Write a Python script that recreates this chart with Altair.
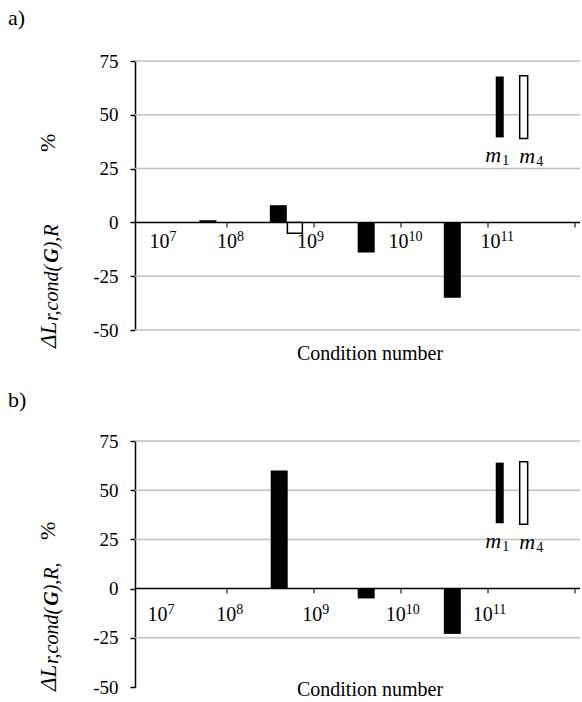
import altair as alt
import pandas as pd

SERIF = "Liberation Serif"

# ---------------- data ----------------
x_exponents = ["7", "8", "9", "10", "11"]          # tick labels 10^k
x_tick_pos = [8, 9, 10, 11, 12]                     # log10(condition number) tick marks
y_tick_vals = [-50, -25, 0, 25, 50, 75]

series_names = ["m1", "m4"]
series_sub = ["1", "4"]

# panel a)
a_bar_x = [7.78, 8.59, 9.60, 10.59, 8.78]
a_bar_v = [1, 8, -14, -35, -5]
a_bar_s = ["m1", "m1", "m1", "m1", "m4"]
a_label_x = [7.225, 8.0, 8.92, 9.97, 11.03]
a_key_lo = [39.5, 39.0]
a_key_hi = [67.8, 68.2]
a_grid = [-50, -25, 25, 50, 75]

# panel b)
b_bar_x = [8.60, 9.60, 10.59]
b_bar_v = [60, -5, -23]
b_bar_s = ["m1", "m1", "m1"]
b_label_x = [7.2, 7.99, 8.98, 9.94, 10.94]
b_key_lo = [33.2, 32.7]
b_key_hi = [64.0, 64.5]
b_grid = [-25, 25, 50, 75]

key_x = [11.135, 11.41]
key_text_x = [11.06, 11.45]

W = 445

YAXIS = alt.Axis(
    values=y_tick_vals, grid=False, domainColor="black", domainWidth=1.5,
    tickColor="black", tickWidth=1.5, tickSize=5,
    labelFont=SERIF, labelFontSize=19, labelColor="black", labelPadding=12,
    labelExpr="datum.value < 0 ? '-' + abs(datum.value) : '' + datum.value",
    title=None)


def panel(letter, height, bar_x, bar_v, bar_s, label_x, key_lo, key_hi, grid_vals,
          label_dy, title_y, letter_y, ytitle_parts):
    xs = alt.Scale(domain=[7, 12], nice=False, zero=False)
    ys = alt.Scale(domain=[-50, 75], nice=False, zero=False)
    bars = pd.DataFrame({"x": bar_x, "v": bar_v, "s": bar_s})
    key = pd.DataFrame({"s": series_names, "x": key_x, "tx": key_text_x,
                        "lo": key_lo, "hi": key_hi, "sub": series_sub})
    labels = pd.DataFrame({"x": label_x, "base": ["10"] * len(label_x), "exp": x_exponents})
    ticks = pd.DataFrame({"x": x_tick_pos})
    grid = pd.DataFrame({"y": grid_vals})
    one = pd.DataFrame({"k": [0]})

    def X(f):
        return alt.X(f + ":Q", scale=xs, axis=None)

    def Y(f):
        return alt.Y(f + ":Q", scale=ys, axis=YAXIS)

    Y0 = alt.YDatum(0, scale=ys, axis=YAXIS)

    layers = []
    layers.append(alt.Chart(grid).mark_rule(color="#c0c0c0", strokeWidth=1.5).encode(y=Y("y")))
    layers.append(alt.Chart(one).mark_rule(color="black", strokeWidth=1.5).encode(y=Y0))
    layers.append(alt.Chart(ticks).mark_tick(orient="vertical", size=5, thickness=1.5,
                                             color="black", yOffset=2.5).encode(
        x=X("x"), y=Y0))
    layers.append(alt.Chart(bars).transform_filter("datum.s == 'm1'").mark_bar(
        color="black", width=17).encode(x=X("x"), y=Y("v"), y2=alt.Y2Datum(0)))
    layers.append(alt.Chart(bars).transform_filter("datum.s == 'm4'").mark_bar(
        fill="white", stroke="black", strokeWidth=1.5, width=15).encode(
        x=X("x"), y=Y("v"), y2=alt.Y2Datum(0)))
    # key bars
    layers.append(alt.Chart(key).transform_filter("datum.s == 'm1'").mark_bar(
        color="black", width=8).encode(x=X("x"), y=Y("hi"), y2=alt.Y2("lo:Q")))
    layers.append(alt.Chart(key).transform_filter("datum.s == 'm4'").mark_bar(
        fill="white", stroke="black", strokeWidth=1.5, width=8).encode(
        x=X("x"), y=Y("hi"), y2=alt.Y2("lo:Q")))
    layers.append(alt.Chart(key).mark_text(font=SERIF, fontSize=22, fontStyle="italic",
                                           align="center", baseline="alphabetic",
                                           dy=25, color="black").encode(
        x=X("tx"), y=Y("lo"), text=alt.value("m")))
    layers.append(alt.Chart(key).mark_text(font=SERIF, fontSize=14, align="left",
                                           baseline="alphabetic",
                                           dx=9, dy=28, color="black").encode(
        x=X("tx"), y=Y("lo"), text="sub:N"))
    # x tick labels 10^k
    layers.append(alt.Chart(labels).mark_text(font=SERIF, fontSize=20, align="center",
                                              baseline="alphabetic",
                                              dy=label_dy, color="black").encode(
        x=X("x"), y=Y0, text="base:N"))
    layers.append(alt.Chart(labels).mark_text(font=SERIF, fontSize=14, align="left",
                                              baseline="alphabetic",
                                              dx=10, dy=label_dy - 7, color="black").encode(
        x=X("x"), y=Y0, text="exp:N"))
    # x title
    layers.append(alt.Chart(one).mark_text(font=SERIF, fontSize=20, align="center",
                                           baseline="alphabetic", color="black").encode(
        x=alt.value(235), y=alt.value(title_y), text=alt.value("Condition number")))
    # panel letter
    layers.append(alt.Chart(one).mark_text(font=SERIF, fontSize=22, align="left",
                                           baseline="top", color="black").encode(
        x=alt.value(-127), y=alt.value(letter_y), text=alt.value(letter)))
    # y title pieces (rotated)
    for txt, px, py, fs, style, weight in ytitle_parts:
        layers.append(alt.Chart(one).mark_text(font=SERIF, fontSize=fs, fontStyle=style,
                                               fontWeight=weight, angle=270, align="left",
                                               baseline="alphabetic",
                                               color="black").encode(
            x=alt.value(px), y=alt.value(py), text=alt.value(txt)))

    return alt.layer(*layers).properties(width=W, height=height)


top_title = [
    ("ΔL", -79, 287, 23, "italic", "normal"),
    ("r,cond(", -77, 260, 20, "italic", "normal"),
    ("G", -77, 201.7, 20, "italic", "bold"),
    ("),R", -77, 187.3, 20, "italic", "normal"),
    ("%", -80, 91, 22, "normal", "normal"),
]
bot_title = [
    ("ΔL", -79, 250, 23, "italic", "normal"),
    ("r,cond(", -77, 223, 20, "italic", "normal"),
    ("G", -77, 164.7, 20, "italic", "bold"),
    ("),R,", -77, 150.3, 20, "italic", "normal"),
    ("%", -80, 99, 22, "normal", "normal"),
]

top = panel("a)", 269, a_bar_x, a_bar_v, a_bar_s, a_label_x, a_key_lo, a_key_hi, a_grid,
            26, 299, -53, top_title)
bottom = panel("b)", 246, b_bar_x, b_bar_v, b_bar_s, b_label_x, b_key_lo, b_key_hi, b_grid,
               32, 255, -51, bot_title)

chart = alt.vconcat(top, bottom, spacing=111, bounds="flush").properties(
    padding={"left": 8, "top": 7, "right": 0, "bottom": 0},
    background="white",
).configure_view(strokeWidth=0)

chart.save("out.html", embed_options={"renderer": "svg", "actions": False})
